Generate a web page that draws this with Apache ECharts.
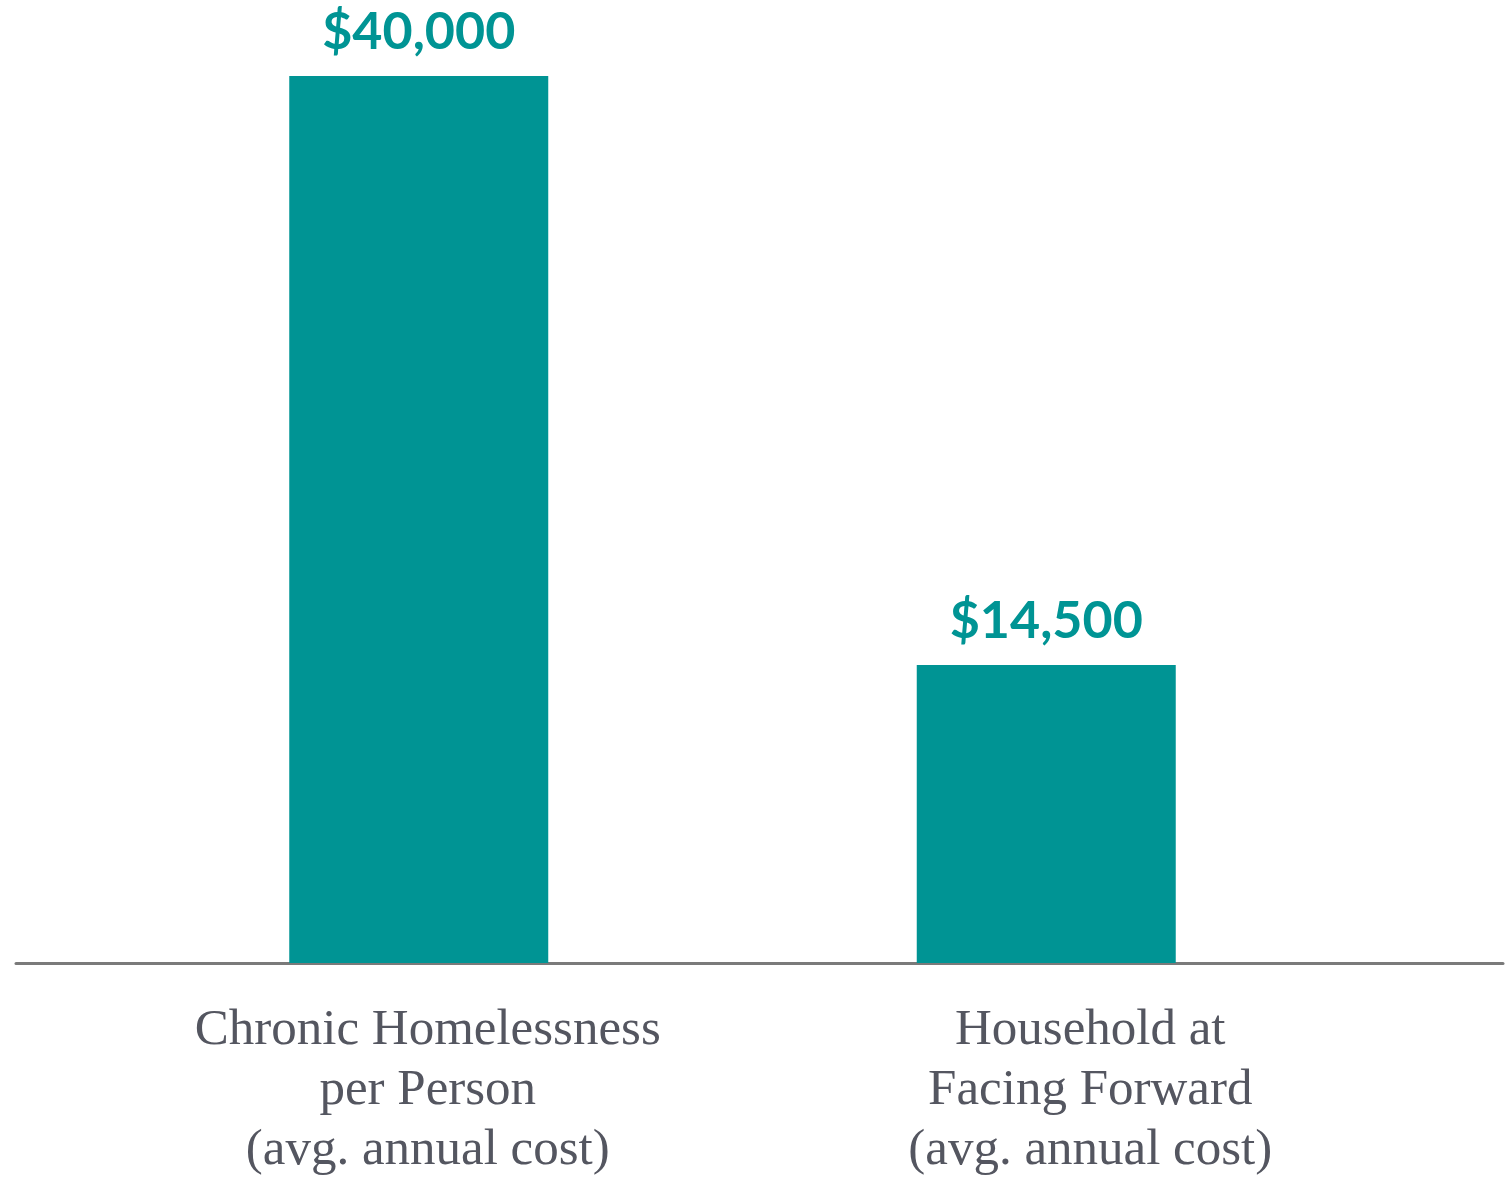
<!DOCTYPE html>
<html>
<head>
<meta charset="utf-8">
<script src="https://cdn.jsdelivr.net/npm/echarts@6/dist/echarts.min.js"></script>
<style>
  html, body { margin: 0; padding: 0; background: #fff; }
  #chart { width: 1506px; height: 1180px; }
</style>
</head>
<body>
<div id="chart"></div>
<script>
const categories = [
  'Chronic Homelessness\nper Person\n(avg. annual cost)',
  'Household at\nFacing Forward\n(avg. annual cost)'
]
const costs = [40000, 14500]
const valueLabels = ['$40,000', '$14,500']

const teal = '#009494'
const chart = echarts.init(document.getElementById('chart'))

const catText = {
  fontFamily: 'Liberation Serif',
  fontSize: 51,
  lineHeight: 60,
  color: '#545660',
  align: 'center'
}

const option = {
  backgroundColor: '#fff',
  animation: false,
  grid: [
    {left: 105, right: 146, top: 76, bottom: 217},
    // second grid only carries the long baseline
    {left: 16, right: 3, top: 76, bottom: 217}
  ],
  xAxis: [
    {
      type: 'category',
      data: categories,
      gridIndex: 0,
      axisLine: {show: false},
      axisTick: {show: false},
      axisLabel: {
        margin: 38,
        interval: 0,
        formatter: (val, idx) => `{c${idx}|${val}}`,
        rich: {
          // the printed labels sit a little right of the bar centres
          c0: Object.assign({padding: [0, 0, 0, 18]}, catText),
          c1: Object.assign({padding: [0, 0, 0, 88]}, catText)
        }
      }
    },
    {
      type: 'value',
      gridIndex: 1,
      min: 0,
      max: 1,
      axisLine: {show: true, onZero: false, lineStyle: {color: '#7a7a7a', width: 3}},
      axisTick: {show: false},
      axisLabel: {show: false},
      splitLine: {show: false}
    }
  ],
  yAxis: [
    {type: 'value', gridIndex: 0, min: 1600, max: 40000, show: false},
    {type: 'value', gridIndex: 1, min: 0, max: 1, show: false}
  ],
  series: [
    {
      type: 'bar',
      xAxisIndex: 0,
      yAxisIndex: 0,
      data: costs,
      barWidth: 259,
      itemStyle: {color: teal},
      label: {
        show: true,
        position: 'top',
        distance: 18,
        formatter: p => valueLabels[p.dataIndex],
        fontFamily: 'Lato',
        fontWeight: 'bold',
        fontSize: 52,
        color: teal
      }
    }
  ]
}

chart.setOption(option)
</script>
</body>
</html>
